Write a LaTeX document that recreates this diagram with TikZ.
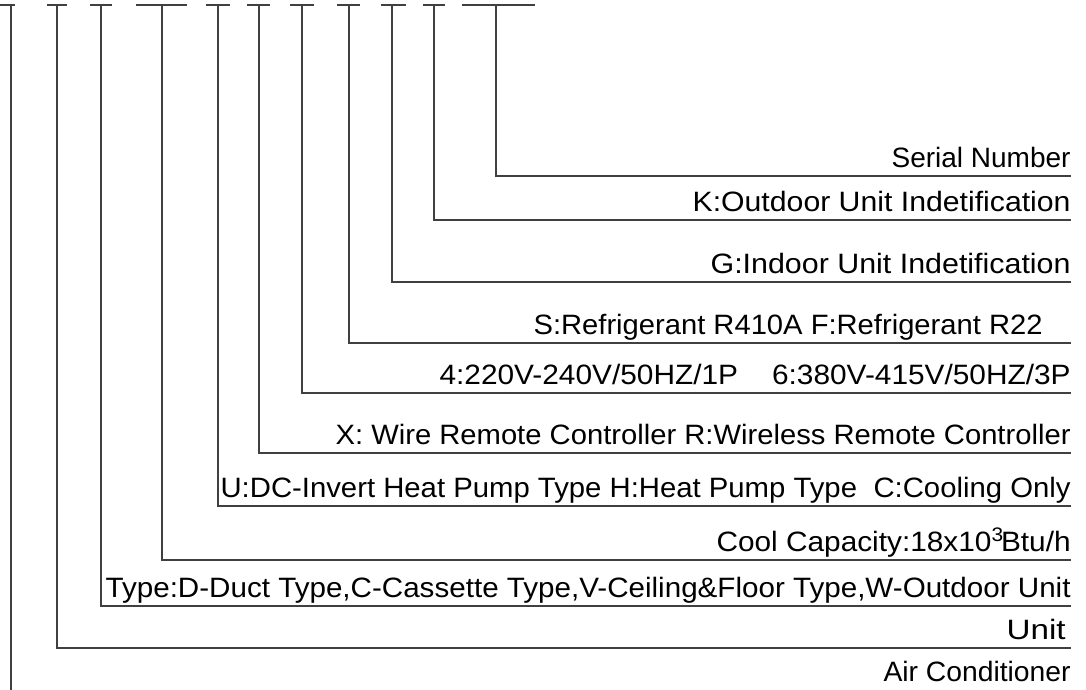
\documentclass[tikz,border=0pt]{standalone}
\usepackage{fontspec}
\setmainfont{Liberation Sans}
\usetikzlibrary{calc}
% squeeze/stretch a meaning to the printed width
\newcommand{\fitw}[2]{\resizebox{#1}{\height}{#2}}

\begin{document}
\begin{tikzpicture}[x=0.5pt, y=-0.5pt, font=\fontsize{14}{16}\selectfont,
  lead/.style={line width=0.6pt, draw=black!75},
  code/.style={anchor=south east, inner xsep=0pt, inner ysep=1pt,
    text height=0.75em, text depth=0.3em}]
  \useasboundingbox (0,0) rectangle (1086,690);

  %--- code ticks along the top edge ---
  \foreach \name/\x/\l/\r in {ac/11/0/15, un/57/47/67, ty/101/90/112,
      cc/162/136/187, fn/218/206/230, rc/259/247/270, ps/302/290/314,
      rf/349/337/360, idu/392/381/406, odu/434/423/445, sn/496/462/535} {
    \draw[lead] (\l,5) -- (\r,5);
    \coordinate (\name) at (\x,5);
  }

  %--- meanings, right aligned ---
  \node[code] (snl)  at (1071,176) {\fitw{89.5pt}{Serial Number}};
  \node[code] (odul) at (1071,220) {\fitw{189pt}{K:Outdoor Unit Indetification}};
  \node[code] (idul) at (1071,282) {\fitw{180pt}{G:Indoor Unit Indetification}};
  \node[code] (rfl)  at (1071,343) {\fitw{254.5pt}{S:Refrigerant R410A F:Refrigerant R22}\kern14pt};
  \node[code] (psl)  at (1071,393) {\fitw{315.5pt}{4:220V-240V/50HZ/1P\hspace{16pt}6:380V-415V/50HZ/3P}};
  \node[code] (rcl)  at (1071,453) {\fitw{367.5pt}{X: Wire Remote Controller R:Wireless Remote Controller}};
  \node[code] (fnl)  at (1071,506) {\fitw{425pt}{U:DC-Invert Heat Pump Type H:Heat Pump Type\hspace{4pt} C:Cooling Only}};
  \node[code] (ccl)  at (1071,560) {\fitw{177pt}{Cool Capacity:18x10\textsuperscript{3}\kern-1.5pt Btu/h}};
  \node[code] (tyl)  at (1071,606) {\fitw{482.5pt}{Type:D-Duct Type,C-Cassette Type,V-Ceiling\&Floor Type,W-Outdoor Unit}};
  \node[code] (unl)  at (1071,648) {\fitw{29.5pt}{Unit}\kern2.5pt};
  \node[code] (acl)  at (1071,690) {\fitw{93.5pt}{Air Conditioner}};

  %--- leaders from ticks to meanings ---
  \draw[lead] (sn)  |- (snl.south east);
  \draw[lead] (odu) |- (odul.south east);
  \draw[lead] (idu) |- (idul.south east);
  \draw[lead] (rf)  |- (rfl.south east);
  \draw[lead] (ps)  |- (psl.south east);
  \draw[lead] (rc)  |- (rcl.south east);
  \draw[lead] (fn)  |- (fnl.south east);
  \draw[lead] (cc)  |- (ccl.south east);
  \draw[lead] (ty)  |- (tyl.south east);
  \draw[lead] (un)  |- (unl.south east);
  \coordinate (acend) at (11,690);
  \draw[lead] (ac) -- (acend);
\end{tikzpicture}
\end{document}
